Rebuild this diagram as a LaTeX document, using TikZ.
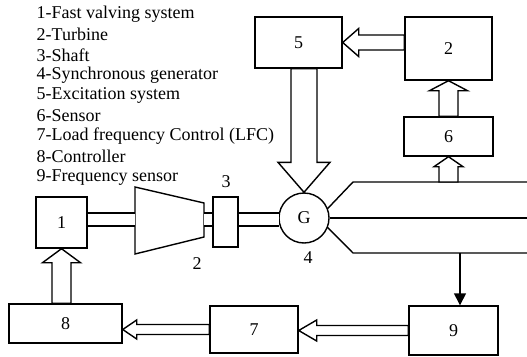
\documentclass[tikz,border=0pt]{standalone}
\usepackage{fontspec}
\setmainfont{Liberation Serif}
\usetikzlibrary{calc,arrows.meta}

% hollow block arrow: from, to, shaft half width, head half width, head length
\newcommand{\fatarrow}[5]{%
  \draw[fill=white] let \p1=(#1), \p2=(#2),
      \n1={atan2(\y2-\y1,\x2-\x1)}, \n2={veclen(\x2-\x1,\y2-\y1)} in
    [shift={(\p1)}, rotate=\n1]
    (0,-#3) -- ({\n2-#5},-#3) -- ({\n2-#5},-#4) -- (\n2,0) --
    ({\n2-#5},#4) -- ({\n2-#5},#3) -- (0,#3) -- cycle;
}

\begin{document}
\begin{tikzpicture}[x=1pt,y=-1pt,line width=1.4pt,
    txt/.style={font=\fontsize{18}{20}\selectfont, inner sep=0pt},
    box/.style={txt, draw, fill=white},
    shaft/.style={double distance=11.6pt}]

      \useasboundingbox (0,0) rectangle (527,356);

      % Legend
      \foreach \i/\name in {
          1/Fast valving system,
          2/Turbine,
          3/Shaft,
          4/Synchronous generator,
          5/Excitation system,
          6/Sensor,
          7/Load frequency Control (LFC),
          8/Controller,
          9/Frequency sensor
      } {
          \node[txt, anchor=west] (leg\i) at (36,{14+20.4*(\i-1)}) {\i-\name};
      }

      % Turbine outline
      \coordinate (tw) at (135,219.5);
      \coordinate (te) at (204,219.5);
      \draw[fill=white] (135,187) -- (204,203) -- (204,237) -- (135,254) -- cycle;

      % Blocks
      \node[box, minimum width=87pt, minimum height=51pt] (b5) at (298.5,42.5) {5};
      \node[box, minimum width=87pt, minimum height=63pt] (b2) at (448.5,48.5) {2};
      \node[box, minimum width=89pt, minimum height=39pt] (b6) at (448.5,136.5) {6};
      \node[box, minimum width=51pt, minimum height=51pt] (b1) at (61.5,222.5) {1};
      \node[box, minimum width=25pt, minimum height=50pt] (b3) at (225.5,222) {};
      \node[box, minimum width=113pt, minimum height=39pt] (b8) at (65.5,323.5) {8};
      \node[box, minimum width=88pt, minimum height=47pt] (b7) at (254,329.5) {7};
      \node[box, minimum width=89pt, minimum height=49pt] (b9) at (453.5,330.5) {9};
      \node[box, circle, minimum size=50pt] (g) at (304,218) {G};

      % Shafts
      \draw[shaft] (b1.east |- tw) -- (tw);
      \draw[shaft] (te) -- (b3.west |- te);
      \draw[shaft] (b3.east |- te) -- ($(g.west |- te)+(1,0)$);

      % Part numbers
      \node[txt] (l2) at (197,264) {2};
      \node[txt] (l3) at (226,182) {3};
      \node[txt] (l4) at (308,258) {4};

      % Output lines
      \coordinate (ut) at (353,182);
      \coordinate (ue) at (527,182);
      \coordinate (me) at (527,218);
      \coordinate (lt) at (353,253);
      \coordinate (le) at (527,253);
      \draw (g.22) -- (ut) -- (ue);
      \draw (g.east) -- (me);
      \draw (g.-22) -- (lt) -- (le);

      % Frequency tap
      \coordinate (tap) at (460,253);
      \draw[-{Triangle[length=12pt,width=12pt]}] (tap) -- (tap |- b9.north);

      % Block arrows
      \fatarrow{b2.west |- b5}{b5.east}{7.5}{14}{16}
      \fatarrow{b6.north}{b2.south}{9.5}{19}{10}
      \fatarrow{b5.south -| g}{g.north}{13}{26}{30}
      \fatarrow{b6.south |- ut}{b6.south}{9.5}{14.5}{10}
      \fatarrow{b9.west}{b7.east |- b9.west}{5}{10.5}{18}
      \fatarrow{b7.west}{b8.east |- b7.west}{5}{9.5}{14}
      \fatarrow{b8.north -| b1}{b1.south}{9.5}{19}{14}

\end{tikzpicture}
\end{document}
